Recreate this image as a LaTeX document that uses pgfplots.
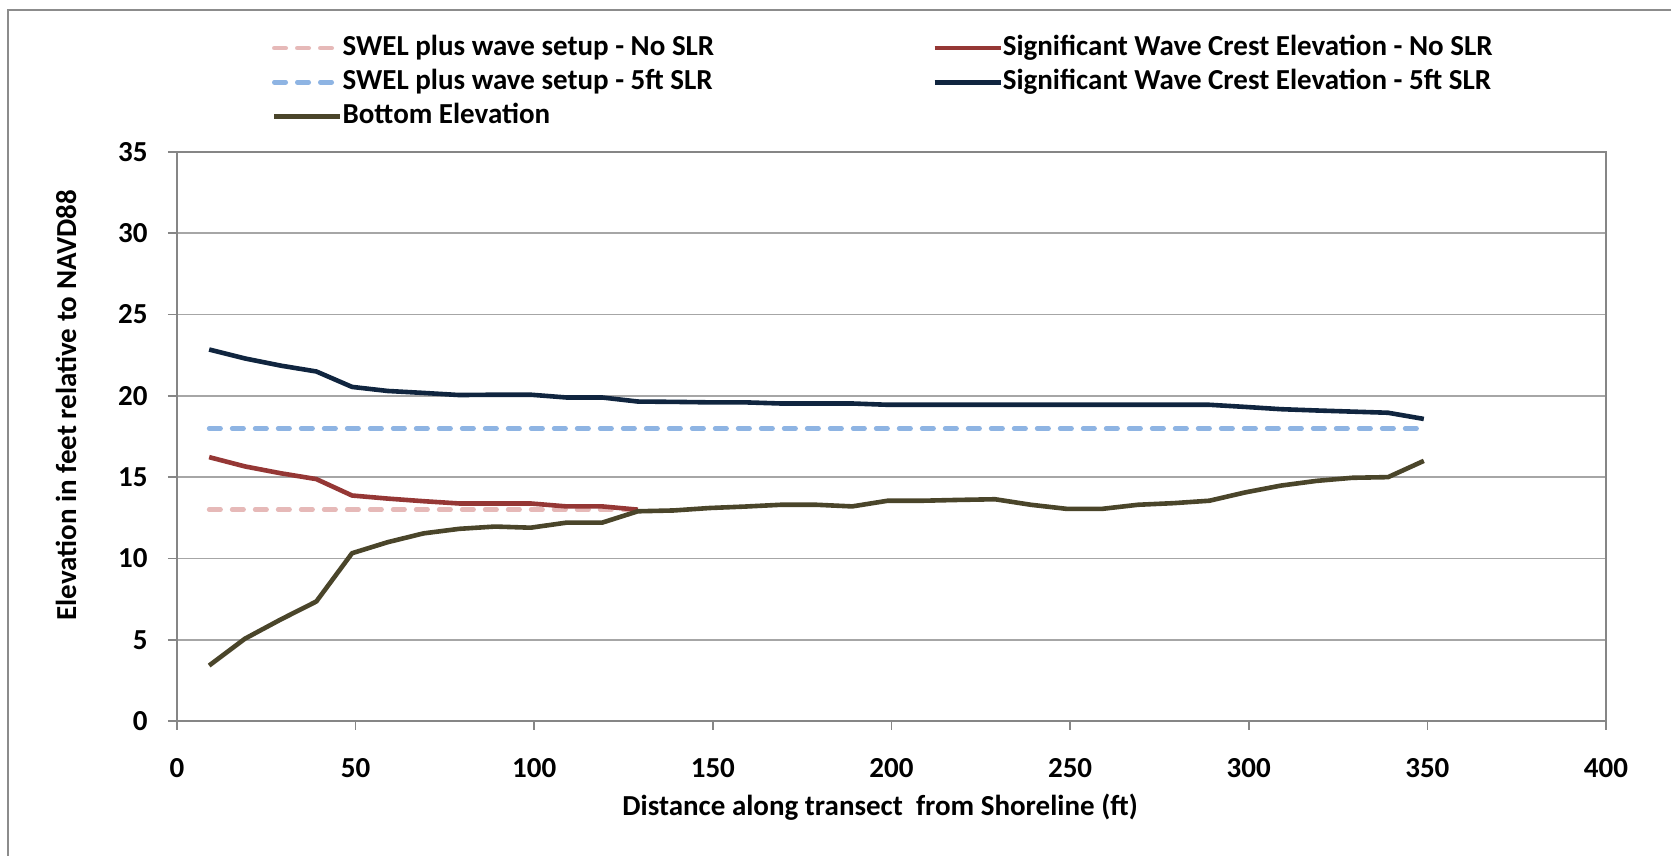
\documentclass[border=0pt]{standalone}
\usepackage{fontspec}
\setmainfont{Carlito}
\usepackage{pgfplots}
\usepackage{pgfplotstable}
\pgfplotsset{compat=1.18}
\definecolor{swelno}{HTML}{E6B9B8}
\definecolor{swelfive}{HTML}{8EB4E3}
\definecolor{signo}{HTML}{953735}
\definecolor{sigfive}{HTML}{10253F}
\definecolor{bottomc}{HTML}{4A452A}
\definecolor{gridgray}{HTML}{A6A6A6}
\definecolor{axisgray}{HTML}{868686}
\definecolor{framegray}{HTML}{8C8C8C}

\pgfplotstableread{
x y
9 13.0
19 13.0
29 13.0
39 13.0
49 13.0
59 13.0
69 13.0
79 13.0
89 13.0
99 13.0
109 13.0
119 13.0
129 13.0
}\swelno

\pgfplotstableread{
x y
9 18.0
19 18.0
29 18.0
39 18.0
49 18.0
59 18.0
69 18.0
79 18.0
89 18.0
99 18.0
109 18.0
119 18.0
129 18.0
139 18.0
149 18.0
159 18.0
169 18.0
179 18.0
189 18.0
199 18.0
209 18.0
219 18.0
229 18.0
239 18.0
249 18.0
259 18.0
269 18.0
279 18.0
289 18.0
299 18.0
309 18.0
319 18.0
329 18.0
339 18.0
349 18.0
}\swelfive

\pgfplotstableread{
x y
9 16.23
19 15.66
29 15.24
39 14.88
49 13.87
59 13.68
69 13.52
79 13.38
89 13.38
99 13.38
109 13.20
119 13.20
129 13.00
}\signo

\pgfplotstableread{
x y
9 22.85
19 22.30
29 21.86
39 21.50
49 20.55
59 20.30
69 20.18
79 20.05
89 20.07
99 20.07
109 19.90
119 19.90
129 19.65
139 19.63
149 19.60
159 19.60
169 19.53
179 19.53
189 19.53
199 19.45
209 19.45
219 19.45
229 19.45
239 19.45
249 19.45
259 19.45
269 19.45
279 19.45
289 19.45
299 19.32
309 19.18
319 19.10
329 19.03
339 18.96
349 18.58
}\sigfive

\pgfplotstableread{
x y
9 3.41
19 5.06
29 6.24
39 7.35
49 10.32
59 11.00
69 11.54
79 11.82
89 11.96
99 11.89
109 12.20
119 12.20
129 12.90
139 12.95
149 13.10
159 13.19
169 13.30
179 13.30
189 13.20
199 13.55
209 13.55
219 13.60
229 13.64
239 13.30
249 13.05
259 13.05
269 13.30
279 13.40
289 13.55
299 14.06
309 14.48
319 14.77
329 14.96
339 15.00
349 16.00
}\bottomel

\begin{document}
\begin{tikzpicture}[x=1pt,y=1pt]
\useasboundingbox (0,0) rectangle (835.5,428);
\fill[white] (0,0) rectangle (835.5,428);
\draw[line width=1.3pt, color=framegray] (4,0) -- (4,423) -- (835.5,423);
\begin{axis}[
  at={(88.5pt,67.5pt)}, anchor=south west,
  width=714.5pt, height=284.5pt, scale only axis,
  xmin=0, xmax=400, ymin=0, ymax=35,
  xtick={0,50,...,400}, ytick={0,5,...,35},
  xtick pos=left, ytick pos=left,
  tick align=outside, major tick length=4.5pt,
  tick style={color=axisgray, line width=0.8pt},
  ymajorgrids, grid style={color=gridgray, line width=0.8pt},
  axis line style={color=axisgray, line width=1pt},
  /pgf/number format/assume math mode=true,
  tick label style={font=\bfseries\fontsize{14.5}{16}\selectfont},
  yticklabel style={anchor=east, inner sep=0pt, xshift=-10pt},
  xticklabel style={anchor=center, inner sep=0pt, yshift=-19pt},
  label style={font=\bfseries\fontsize{14.5}{16}\selectfont},
  xlabel={Distance along transect\ \ from Shoreline (ft)},
  ylabel={Elevation in feet relative to NAVD88},
  xlabel style={at={(axis description cs:0.492,-0.151)}, anchor=center, inner sep=0pt},
  ylabel style={at={(axis description cs:-0.0777,0.555)}, anchor=center, inner sep=0pt},
  legend columns=2,
  legend cell align=left,
  legend image code/.code={\draw[#1] (0pt,0pt) -- (33pt,0pt);},
  legend style={draw=none, fill=none, inner sep=0pt, outer sep=0pt,
    at={(axis description cs:0.0665,1.2127)}, anchor=north west,
    font=\bfseries\fontsize{14.5}{16}\selectfont,
    nodes={text height=10.3pt, text depth=3.2pt, inner ysep=1.8pt, inner xsep=0pt},
    row sep=0pt,
    /tikz/every odd column/.append style={column sep=0pt},
    /tikz/every even column/.append style={column sep=109pt}},
]
\addplot[color=swelno, line width=2.3pt, line cap=round, dash pattern=on 5.7pt off 5.8pt] table[x=x,y=y] {\swelno};
\addlegendentry{SWEL plus wave setup - No SLR}
\addplot[color=signo, line width=2.3pt, line join=round] table[x=x,y=y] {\signo};
\addlegendentry{Significant Wave Crest Elevation - No SLR}
\addplot[color=swelfive, line width=2.3pt, line cap=round, dash pattern=on 5.7pt off 5.8pt] table[x=x,y=y] {\swelfive};
\addlegendentry{SWEL plus wave setup - 5ft SLR}
\addplot[color=sigfive, line width=2.3pt, line join=round] table[x=x,y=y] {\sigfive};
\addlegendentry{Significant Wave Crest Elevation - 5ft SLR}
\addplot[color=bottomc, line width=2.3pt, line join=round] table[x=x,y=y] {\bottomel};
\addlegendentry{Bottom Elevation}
\end{axis}
\end{tikzpicture}
\end{document}
